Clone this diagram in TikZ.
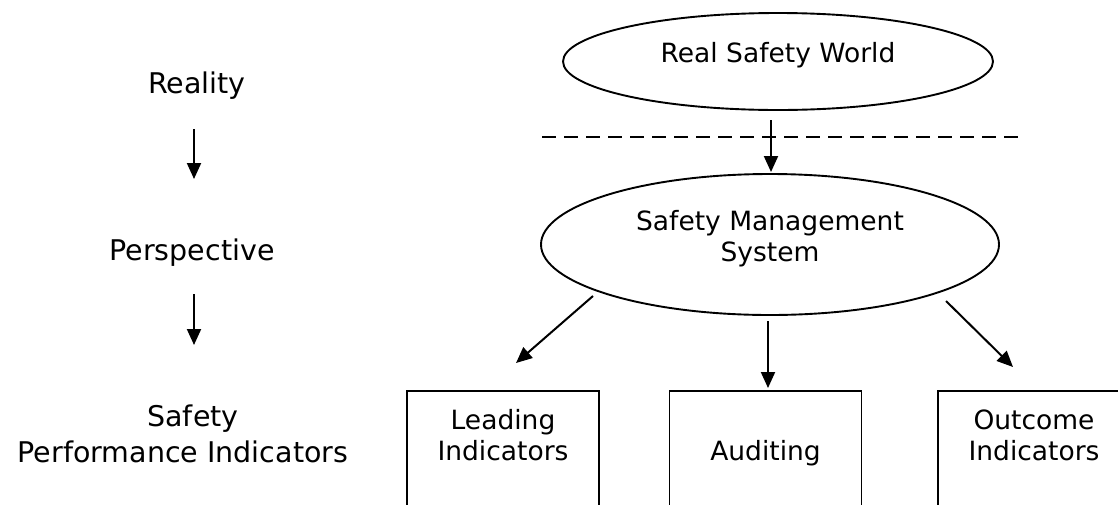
\documentclass[tikz,border=0pt]{standalone}
\usepackage{fontspec}
\setmainfont{DejaVu Sans}
\usetikzlibrary{shapes.geometric, arrows.meta}
\begin{document}
\begin{tikzpicture}[x=1pt, y=-1pt,
  shapeline/.style={draw=black, line width=1.9pt},
  oval/.style={shapeline, ellipse, inner sep=0pt},
  panel/.style={shapeline, rectangle, inner sep=0pt, minimum width=192pt, minimum height=160pt, anchor=north},
  txt/.style={font=\fontsize{26.5}{31}\selectfont, inner sep=0pt, anchor=base},
  sidetxt/.style={font=\fontsize{28.5}{34}\selectfont, inner sep=0pt, anchor=base},
  arr/.style={line width=2pt, -{Triangle[length=16pt,width=14pt]}},
  dashline/.style={line width=1.6pt, dash pattern=on 13.5pt off 8.5pt}]
\fill[white] (0,0) rectangle (1118,504);
\useasboundingbox (0,0) rectangle (1118,504);
\clip (0,0) rectangle (1118,504);

% left-hand column: levels of the model
\node[sidetxt] (reality) at (197,93) {Reality};
\node[sidetxt] (persp) at (192,260) {Perspective};
\node[sidetxt] (spi1) at (193,426) {Safety};
\node[sidetxt] (spi2) at (183,462) {Performance Indicators};
\coordinate (ra) at (194,129);
\coordinate (rb) at (194,179);
\coordinate (pa) at (194,294);
\coordinate (pb) at (194,345);
\draw[arr] (ra) -- (rb);
\draw[arr] (pa) -- (pb);

% the real world and its boundary
\node[oval, minimum width=430pt, minimum height=97pt] (rsw) at (778,61.5) {};
\node[txt] (rswtext) at (778,62) {Real Safety World};
\coordinate (dl) at (542,137);
\coordinate (dr) at (1019,137);
\draw[dashline] (dl) -- (dr);

% management system
\node[oval, minimum width=458pt, minimum height=141pt] (sms) at (770,244.5) {};
\node[txt] (smstext1) at (770,230) {Safety Management};
\node[txt] (smstext2) at (770,261) {System};
\coordinate (wa) at (771,120);
\coordinate (wb) at (771,172);
\draw[arr] (wa) -- (wb);

% indicator boxes
\node[panel] (lead) at (503,390) {};
\node[panel] (audit) at (765.5,390) {};
\node[panel] (outc) at (1034,390) {};
\node[txt] (leadt1) at (lead.north |- 0,429) {Leading};
\node[txt] (leadt2) at (lead.north |- 0,460) {Indicators};
\node[txt] (auditt) at (audit.north |- 0,460) {Auditing};
\node[txt] (outct1) at (outc.north |- 0,429) {Outcome};
\node[txt] (outct2) at (outc.north |- 0,460) {Indicators};

% arrows from the management system to the indicators
\coordinate (la) at (593,296);
\coordinate (lb) at (516,363);
\coordinate (aa) at (768,321);
\coordinate (ab) at (768,388);
\coordinate (oa) at (946,301);
\coordinate (ob) at (1013,367);
\draw[arr] (la) -- (lb);
\draw[arr] (aa) -- (ab);
\draw[arr] (oa) -- (ob);
\end{tikzpicture}
\end{document}
